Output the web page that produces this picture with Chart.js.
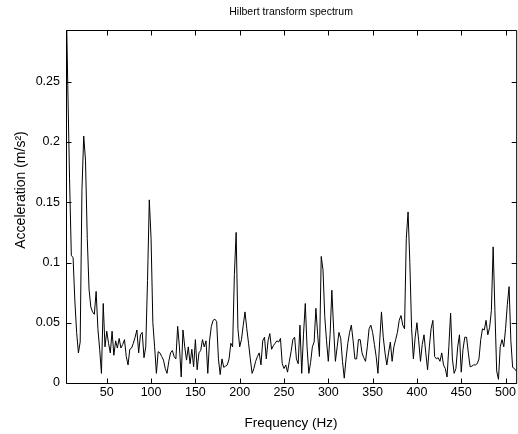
<!DOCTYPE html>
<html>
<head>
<meta charset="utf-8">
<script src="https://cdn.jsdelivr.net/npm/chart.js@4.4.1/dist/chart.umd.min.js"></script>
<style>
  body { margin: 0; background: #fff; }
  canvas { display: block; }
</style>
</head>
<body>
<canvas id="spectrum" width="518" height="434"></canvas>
<script>
// frequency grid of the spectrum (Hz)
const freqStart = 4;
const freqStep = 2;

// amplitude, split by frequency band (m/s^2)
const amp4to98 = [0.33, 0.247, 0.17, 0.106, 0.104, 0.068, 0.042, 0.025, 0.034,
  0.16, 0.205, 0.185, 0.12, 0.078, 0.063, 0.059, 0.057, 0.076, 0.045,
  0.028, 0.008, 0.066, 0.03, 0.043, 0.033, 0.025, 0.043, 0.023, 0.035,
  0.029, 0.037, 0.029, 0.032, 0.036, 0.022, 0.015, 0.028, 0.029, 0.033,
  0.038, 0.044, 0.025, 0.040, 0.042, 0.021, 0.03, 0.085, 0.152];
const amp100to198 = [0.12, 0.05, 0.03, 0.008, 0.026, 0.025, 0.022, 0.019, 0.012, 0.008,
  0.018, 0.025, 0.027, 0.022, 0.02, 0.047, 0.03, 0.005, 0.044, 0.03,
  0.019, 0.03, 0.016, 0.028, 0.0135, 0.036, 0.011, 0.025, 0.027, 0.036,
  0.03, 0.035, 0.008, 0.035, 0.047, 0.052, 0.053, 0.051, 0.02, 0.007,
  0.02, 0.013, 0.014, 0.015, 0.02, 0.033, 0.03, 0.09, 0.125, 0.045];
const amp200to298 = [0.03, 0.036, 0.048, 0.059, 0.045, 0.033, 0.02, 0.008, 0.012, 0.018,
  0.022, 0.025, 0.015, 0.035, 0.038, 0.02, 0.035, 0.041, 0.028, 0.031,
  0.033, 0.035, 0.034, 0.037, 0.016, 0.012, 0.015, 0.009, 0.018, 0.026,
  0.036, 0.038, 0.02, 0.016, 0.048, 0.008, 0.04, 0.066, 0.03, 0.008,
  0.017, 0.03, 0.034, 0.062, 0.04, 0.022, 0.105, 0.094, 0.055, 0.035];
const amp300to398 = [0.018, 0.04, 0.077, 0.045, 0.018, 0.03, 0.042, 0.037, 0.018, 0.004,
  0.02, 0.033, 0.042, 0.048, 0.035, 0.02, 0.02, 0.036, 0.036, 0.025,
  0.021, 0.018, 0.03, 0.045, 0.048, 0.042, 0.032, 0.022, 0.008, 0.035,
  0.059, 0.038, 0.025, 0.015, 0.025, 0.034, 0.018, 0.03, 0.036, 0.042,
  0.052, 0.056, 0.048, 0.045, 0.12, 0.142, 0.1, 0.045, 0.02, 0.038];
const amp400to512 = [0.05, 0.035, 0.018, 0.032, 0.04, 0.025, 0.011, 0.03, 0.045, 0.052,
  0.022, 0.02, 0.021, 0.018, 0.025, 0.015, 0.012, 0.005, 0.03, 0.058,
  0.02, 0.008, 0.012, 0.03, 0.04, 0.009, 0.028, 0.038, 0.038, 0.025,
  0.0135, 0.014, 0.015, 0.015, 0.016, 0.02, 0.036, 0.045, 0.044, 0.052,
  0.04, 0.046, 0.06, 0.113, 0.06, 0.01, 0.003, 0.03, 0.036, 0.03,
  0.045, 0.065, 0.08, 0.035, 0.013, 0.012, 0.01];

const xTicks = [50, 100, 150, 200, 250, 300, 350, 400, 450, 500];
const yTicks = [0, 0.05, 0.1, 0.15, 0.2, 0.25];

const amplitude = [].concat(amp4to98, amp100to198, amp200to298, amp300to398, amp400to512);
const points = amplitude.map((a, i) => ({ x: freqStart + i * freqStep, y: a }));

const FONT = "'Liberation Sans', Arial, sans-serif";
Chart.defaults.font.family = FONT;
Chart.defaults.color = '#000';

// matlab style box with inward ticks on all sides, title and y label
const matlabAxes = {
  id: 'matlabAxes',
  afterDraw(chart) {
    const ctx = chart.ctx;
    const { left, right, top, bottom } = chart.chartArea;
    const xs = chart.scales.x, ys = chart.scales.y;
    const L = left + 0.5, R = right + 0.5, T = top + 0.5, B = bottom + 0.5;
    ctx.save();
    ctx.strokeStyle = '#000';
    ctx.lineWidth = 1;
    ctx.beginPath();
    ctx.rect(L, T, R - L, B - T);
    xTicks.forEach(v => {
      const px = Math.round(xs.getPixelForValue(v)) + 0.5;
      ctx.moveTo(px, B); ctx.lineTo(px, B - 5);
      ctx.moveTo(px, T); ctx.lineTo(px, T + 5);
    });
    yTicks.forEach(v => {
      const py = Math.round(ys.getPixelForValue(v)) + 0.5;
      ctx.moveTo(L, py); ctx.lineTo(L + 5, py);
      ctx.moveTo(R, py); ctx.lineTo(R - 5, py);
    });
    ctx.stroke();

    ctx.fillStyle = '#000';
    ctx.textAlign = 'center';
    ctx.textBaseline = 'middle';
    ctx.font = '10.5px ' + FONT;
    ctx.fillText('Hilbert transform spectrum', (left + right) / 2, 12);

    ctx.translate(21, 190);
    ctx.rotate(-Math.PI / 2);
    ctx.font = '14px ' + FONT;
    ctx.fillText('Acceleration (m/s\u00B2)', 0, 0);
    ctx.restore();
  }
};

new Chart(document.getElementById('spectrum'), {
  type: 'line',
  data: {
    datasets: [{
      data: points,
      borderColor: '#000',
      borderWidth: 1,
      pointRadius: 0,
      tension: 0,
      fill: false
    }]
  },
  options: {
    responsive: false,
    animation: false,
    devicePixelRatio: 1,
    layout: { padding: { left: 0, right: 1, top: 30, bottom: 0 } },
    plugins: {
      legend: { display: false },
      tooltip: { enabled: false },
      title: { display: false }
    },
    scales: {
      x: {
        type: 'linear',
        min: 4,
        max: 512,
        grid: { display: false, drawTicks: false },
        border: { display: false },
        afterBuildTicks: s => { s.ticks = xTicks.map(v => ({ value: v })); },
        afterFit: s => { s.height = 51; },
        ticks: { padding: 2, font: { size: 12.5 }, color: '#000', maxRotation: 0 },
        title: {
          display: true,
          text: 'Frequency (Hz)',
          color: '#000',
          font: { size: 13.5 },
          padding: { top: 0, bottom: 3 }
        }
      },
      y: {
        type: 'linear',
        min: 0,
        max: 0.293,
        grid: { display: false, drawTicks: false },
        border: { display: false },
        afterBuildTicks: s => { s.ticks = yTicks.map(v => ({ value: v })); },
        afterFit: s => { s.width = 66; },
        ticks: { padding: 6, font: { size: 12.5 }, color: '#000', callback: v => String(v) }
      }
    }
  },
  plugins: [matlabAxes]
});
</script>
</body>
</html>
